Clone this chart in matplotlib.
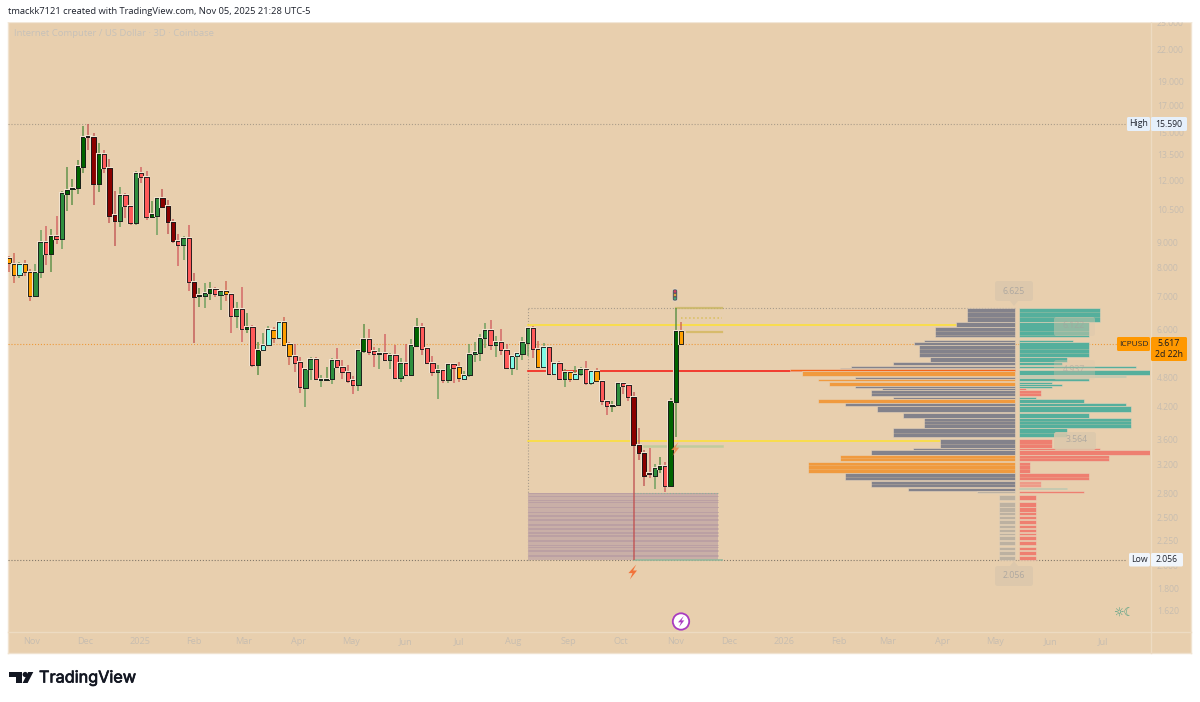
#!/usr/bin/env python
# coding=utf-8
# ICP/USD 3D chart with fixed range volume profile

import matplotlib
matplotlib.use("Agg")
import matplotlib.pyplot as plt
import matplotlib.dates as mdates
import matplotlib.patheffects as pe
import pandas as pd
from matplotlib.patches import Circle, FancyBboxPatch, Polygon, Rectangle
from matplotlib.ticker import NullLocator

plt.rcParams['font.family'] = ['Open Sans', 'DejaVu Sans']

highs = [8.44,8.56,8.21,8.28,7.95,8.13,9.52,9.70,9.56,10.16,
         11.40,12.78,12.06,13.20,15.45,15.59,14.94,14.25,13.80,13.26,
         11.40,11.61,11.30,10.70,12.54,12.78,12.54,10.90,11.10,11.50,
         10.95,10.02,9.35,9.26,9.74,7.80,7.27,7.44,7.48,7.30,
         7.20,7.51,7.07,6.82,7.30,6.48,6.12,5.66,5.90,6.10,
         6.07,6.24,6.36,5.66,5.60,5.27,4.99,5.27,5.27,4.85,
         5.04,5.25,5.50,5.20,5.08,4.83,5.45,6.15,6.01,5.53,
         5.50,5.87,5.37,5.58,5.25,5.60,5.74,6.33,6.18,5.50,
         5.30,5.08,4.97,5.13,5.11,5.15,4.95,5.60,5.66,5.87,
         6.18,6.27,5.82,6.01,5.60,5.30,5.40,5.79,6.04,6.10,
         5.68,5.63,5.53,5.13,5.17,4.99,4.92,5.06,5.04,5.17,
         4.97,5.02,4.72,4.30,4.30,4.70,4.70,4.66,4.49,3.80,
         3.43,3.46,3.21,3.32,3.24,4.36,6.625,6.21]
body_top = [8.36,8.13,8.13,8.13,7.84,7.84,9.01,9.01,9.26,9.26,
            11.30,11.45,11.56,12.84,14.66,14.73,14.66,13.56,13.56,12.72,
            10.20,11.20,11.20,10.65,12.42,12.42,12.18,10.25,11.05,11.05,
            10.65,9.88,9.05,9.17,9.17,7.48,7.04,7.10,7.24,7.24,
            7.17,7.17,7.07,6.60,6.60,6.07,6.07,5.45,5.58,6.01,
            5.98,6.21,6.21,5.60,5.30,5.15,4.99,5.22,5.22,4.76,
            4.76,5.20,5.20,5.04,4.92,4.74,5.45,5.74,5.74,5.42,
            5.37,5.37,5.32,5.32,5.13,5.13,5.58,6.07,6.07,5.50,
            5.13,4.97,4.97,5.11,5.11,5.04,4.85,5.35,5.40,5.76,
            5.98,5.98,5.66,5.66,5.45,5.30,5.37,5.66,6.04,6.04,
            5.48,5.53,5.53,5.13,5.13,4.92,4.92,4.88,4.99,4.99,
            4.95,4.95,4.72,4.30,4.22,4.68,4.68,4.63,4.38,3.51,
            3.37,3.07,3.15,3.18,3.18,4.30,5.95,5.95]
body_bot = [8.17,7.73,7.73,7.84,7.01,7.01,7.84,8.52,8.52,9.13,
            9.13,11.25,11.50,11.56,12.78,14.66,11.78,11.78,12.72,10.16,
            9.92,9.92,10.65,9.83,9.83,12.18,10.12,10.12,10.16,10.60,
            9.88,9.05,8.88,8.88,7.48,6.97,7.01,7.01,7.10,7.07,
            7.04,7.07,6.39,6.39,6.01,6.01,5.08,5.08,5.45,5.58,
            5.76,5.76,5.58,5.30,5.13,4.59,4.57,4.99,4.76,4.74,
            4.74,4.76,5.04,4.92,4.72,4.63,4.63,5.42,5.40,5.35,
            5.35,5.20,5.20,4.79,4.79,4.85,4.85,5.55,5.48,5.13,
            4.92,4.92,4.74,4.74,5.02,4.79,4.76,4.85,5.35,5.37,
            5.76,5.58,5.58,5.45,5.02,5.02,5.30,5.35,5.63,5.48,
            5.04,5.04,4.88,4.88,4.76,4.76,4.76,4.76,4.88,4.68,
            4.68,4.72,4.30,4.20,4.20,4.22,4.61,4.38,3.51,3.37,
            3.04,3.06,3.04,3.14,2.90,2.90,4.28,5.60]
lows = [7.84,7.44,7.62,7.69,6.85,7.01,7.62,8.10,7.84,8.93,
        8.72,10.40,10.70,11.25,12.42,13.80,10.70,11.35,12.42,9.83,
        8.84,9.65,10.07,9.74,9.74,11.83,9.97,10.12,9.30,10.60,
        9.35,8.97,8.06,8.28,7.17,5.63,6.66,6.63,6.88,6.97,
        6.57,6.85,5.90,6.04,5.66,5.90,5.04,4.85,5.45,5.58,
        5.63,5.74,5.58,5.08,4.92,4.47,4.19,4.74,4.74,4.59,
        4.74,4.66,5.02,4.76,4.68,4.45,4.51,5.37,5.32,5.04,
        4.99,5.20,4.99,4.79,4.70,4.85,4.85,5.55,5.32,5.13,
        4.83,4.34,4.68,4.68,4.68,4.70,4.74,4.81,5.15,5.17,
        5.50,5.45,5.27,5.32,5.02,4.85,4.97,5.20,5.30,5.25,
        5.04,5.02,4.88,4.88,4.76,4.59,4.70,4.76,4.83,4.63,
        4.63,4.72,4.22,4.02,4.09,4.22,4.45,4.30,2.056,3.27,
        2.90,3.00,2.85,3.08,2.81,2.90,3.64,5.60]
kinds = ("OOCOOggRGR" "gGGGGDDGRD" "DgRRgRRGgD" "DDRgRDGgGR" "gORgRGRGCC"
         "OCOORRggRg" "GgRRRRgGRR" "gRgRgRgGRR" "RgRgROCggg" "gRgRRCCggR"
         "OCRCRgOCgR" "CORRGgRRDD" "DRgGRGGO")

body_colors = {'G': '#006400', 'g': '#2f8f3f', 'R': '#ff5a5a', 'D': '#8b0000',
               'O': '#ff9f00', 'C': '#7ffbe6'}
wick_colors = {'G': '#4f8a3c', 'g': '#5f9a55', 'R': '#d0595c', 'D': '#c05050',
               'O': '#cf5f50', 'C': '#5f9a55'}

y_ticks = [25,22,19,17,15,13.5,12,10.5,9,8,7,6,4.8,4.2,3.6,3.2,2.8,2.5,2.25,2,1.8,1.62]
x_tick_dates = ['2024-11-01','2024-12-01','2025-01-01','2025-02-01','2025-03-01','2025-04-01',
                '2025-05-01','2025-06-01','2025-07-01','2025-08-01','2025-09-01','2025-10-01',
                '2025-11-01','2025-12-01','2026-01-01','2026-02-01','2026-03-01','2026-04-01',
                '2026-05-01','2026-06-01','2026-07-01']
x_tick_labels = ['Nov','Dec','2025','Feb','Mar','Apr','May','Jun','Jul','Aug','Sep','Oct',
                 'Nov','Dec','2026','Feb','Mar','Apr','May','Jun','Jul']

high_price = 15.59
low_price = 2.056
last_price = 5.617
range_high = 6.625
vah = 6.122
poc = 4.937
val = 3.564

# volume profile, left side (price row top, row bottom, volume, kind)
left_top = [6.625,6.21,6.07,5.71,5.66,5.58,5.27,5.15,5.06,5.02,4.99,4.95,4.80,4.76,4.70,4.61,4.57,4.53,
            4.38,4.34,4.25,4.20,4.07,3.98,3.80,3.61,3.46,3.43,3.35,3.24,3.07,2.97,2.87,2.83,
            2.78,2.69,2.62,2.56,2.52,2.47,2.42,2.37,2.33,2.29,2.24,2.18,2.14,2.09]
left_bot = [6.21,6.07,5.79,5.66,5.58,5.27,5.15,5.08,5.02,4.99,4.95,4.83,4.76,4.72,4.61,4.57,4.53,4.40,
            4.34,4.25,4.20,4.09,3.98,3.80,3.64,3.46,3.43,3.35,3.25,3.08,2.98,2.88,2.83,2.80,
            2.71,2.63,2.57,2.53,2.48,2.43,2.38,2.34,2.30,2.25,2.20,2.15,2.10,2.056]
left_vol = [48,59,80,91,101,96,85,122,164,175,225,213,160,197,186,160,133,144,
            122,197,170,138,112,91,122,75,102,144,175,207,170,144,107,38,
            16,16,16,16,16,16,16,16,16,16,16,16,16,16]
left_kind = list("gggggggggg") + ['p','o','g','o','o','g','g','g'] + ['g','o','g','g','g','g','g','g','g','g','o','o','g','g','g','t'] + ['t']*14

right_top = [6.625,6.21,5.71,5.66,5.27,5.15,5.06,5.00,4.97,4.83,4.78,4.70,4.65,4.61,4.57,4.53,4.38,4.34,4.25,4.20,
             4.07,3.98,3.80,3.61,3.46,3.43,3.35,3.24,3.07,2.97,2.87,2.83,
             2.78,2.69,2.62,2.56,2.52,2.47,2.42,2.37,2.33,2.29,2.24,2.18,2.14,2.09]
right_bot = [6.21,5.79,5.66,5.27,5.15,5.08,5.01,4.98,4.85,4.80,4.72,4.65,4.61,4.57,4.53,4.40,4.34,4.25,4.20,4.09,
             3.98,3.80,3.64,3.46,3.43,3.35,3.25,3.08,2.98,2.88,2.85,2.80,
             2.71,2.63,2.57,2.53,2.48,2.43,2.38,2.34,2.30,2.25,2.20,2.15,2.10,2.056]
right_vol = [81,70,54,70,48,43,117,90,131,107,70,33,43,33,7,22,17,65,107,112,
             70,112,48,33,81,131,90,11,70,22,48,65,
             17,17,17,17,17,17,17,17,17,17,17,17,17,17]
right_kind = ['b']*14 + ['r','r'] + ['b']*7 + ['r','r','r','r','r','r','l','b','r'] + ['r']*14

# faint row gaps inside the merged profile blocks
row_gaps = [6.51,6.36,5.95,5.85,5.48,5.37,4.47,3.92,3.87,3.70,3.52,3.30,3.19,3.13,3.02,2.92]

zone_levels = [2.80,2.76,2.71,2.69,2.63,2.62,2.57,2.56,2.53,2.52,2.48,2.47,2.43,2.42,2.38,2.37,
               2.34,2.33,2.30,2.29,2.25,2.24,2.20,2.18,2.15,2.14,2.10,2.09]

profile_colors = {'g': '#83828b', 't': '#bcb1a1', 'o': '#f09a3e', 'p': '#f5641a',
                  'b': '#55af9c', 'r': '#ee7f70', 'l': '#ee9a88'}

bg = '#e8cfae'
axis_text = '#c7bdb0'
W, H = 1200.0, 702.0

fig = plt.figure(figsize=(12, 7.02), dpi=100, facecolor='white')

def fig_rect(x0, y0, x1, y1):
    return [x0 / W, 1 - y1 / H, (x1 - x0) / W, (y1 - y0) / H]

ax_bg = fig.add_axes(fig_rect(7.7, 21.7, 1191.5, 653))
ax_bg.set_facecolor(bg)
ax_bg.set_xticks([])
ax_bg.set_yticks([])
for s in ax_bg.spines.values():
    s.set_color('#f0e2cf')
    s.set_linewidth(1.0)

ax = fig.add_axes(fig_rect(8, 22, 1150, 631), zorder=2)
ax.patch.set_alpha(0)
for s in ax.spines.values():
    s.set_visible(False)

dates = pd.date_range(end='2025-11-04', periods=len(highs), freq='3D')
xs = mdates.date2num(dates)
px_per_day = 1.7647
last_x = xs[-1]

ax.set_yscale('log')
ax.set_xlim(last_x - 381.5, last_x + 265.6)
ax.set_ylim(1.475, 25.06)
ax.yaxis.set_minor_locator(NullLocator())
ax.yaxis.tick_right()
ax.set_yticks(y_ticks, ['%.3f' % v for v in y_ticks])
ax.set_xticks(mdates.date2num(pd.to_datetime(x_tick_dates)), x_tick_labels)
ax.tick_params(axis='y', length=0, pad=5, labelsize=6.2, labelcolor=axis_text)
ax.tick_params(axis='x', length=0, pad=4.5, labelsize=6.6, labelcolor=axis_text)

# separators of the price and time scales
fig.add_artist(plt.Line2D([1150.5 / W] * 2, [1 - 653 / H, 1 - 22 / H], color='#eddbc2', lw=1))
fig.add_artist(plt.Line2D([8 / W, 1191 / W], [1 - 631.5 / H] * 2, color='#eddbc2', lw=1))

def d(s):
    return mdates.date2num(pd.Timestamp(s))

box_left = d('2025-08-09')
box_right = d('2026-05-12')
zone_right = d('2025-11-25')
tool_right = d('2025-11-27')
x_min = ax.get_xlim()[0]

# price reference lines
ax.plot([x_min, last_x + 252], [high_price] * 2, ls=':', lw=0.8, color='#ab9d89', zorder=1)
ax.plot([x_min, last_x + 252], [low_price] * 2, ls=':', lw=0.8, color='#84796a', zorder=1)
ax.plot([x_min, last_x + 247], [last_price] * 2, ls=':', lw=0.8, color='#ee9a3a', zorder=1)

# fixed range box
ax.plot([box_left, box_right], [range_high] * 2, ls=':', lw=0.8, color='#a89c8c', zorder=1)
ax.plot([box_left, box_left], [low_price, range_high], ls=':', lw=0.8, color='#a89c8c', zorder=1)

ax.barh(2.056, zone_right - box_left, height=2.80 - 2.056, left=box_left, align='edge',
        color='#c9afa7', zorder=1)
ax.hlines(zone_levels, box_left, zone_right, color='#bba0a3', lw=0.7, zorder=1.1)

ax.plot([d('2025-10-08'), zone_right], [2.80] * 2, ls=':', lw=0.8, color='#8fb39a', zorder=1.2)
ax.plot([d('2025-10-08'), tool_right], [low_price] * 2, lw=1.4, color='#93b89c', alpha=0.8, zorder=1.2)
ax.plot([d('2025-11-01'), tool_right], [range_high] * 2, lw=1.6, color='#c9b763', alpha=0.8, zorder=1.2)
ax.plot([d('2025-11-04'), tool_right], [6.33] * 2, ls=':', lw=1.1, color='#d9bf5d', zorder=1.2)
ax.plot([d('2025-11-07'), tool_right], [5.92] * 2, lw=1.6, color='#d6b964', alpha=0.9, zorder=1.2)
ax.plot([d('2025-10-14'), tool_right], [3.49] * 2, lw=1.8, color='#bccb9b', alpha=0.9, zorder=1.2)

ax.plot([box_left, box_right], [vah] * 2, color='#fde133', lw=1.1, zorder=1.5)
ax.plot([box_left, box_right], [val] * 2, color='#fde133', lw=1.1, zorder=1.5)
ax.plot([box_left, box_right], [poc] * 2, color='#f3231a', lw=1.2, zorder=1.5)

# candles
for x, hi, lo, k in zip(xs, highs, lows, kinds):
    ax.plot([x, x], [lo, hi], color=wick_colors[k], lw=1.2, alpha=0.8, zorder=3,
            solid_capstyle='butt')
heights = [t - b for t, b in zip(body_top, body_bot)]
bars = ax.bar(xs, heights, bottom=body_bot, width=2.5,
              color=[body_colors[k] for k in kinds], edgecolor='#1a1a1a', linewidth=0.6, zorder=4)
for b in bars:
    b.set_path_effects([pe.withStroke(linewidth=1.5, foreground='#f1e3cf'), pe.Normal()])

# volume profile
base_left = box_right
base_right = base_left + 4 / px_per_day
for top, bot, v, k in zip(left_top, left_bot, left_vol, left_kind):
    ax.barh(bot, -v / px_per_day, height=top - bot, left=base_left, align='edge',
            color=profile_colors[k], edgecolor='#e6d3ba', linewidth=0.4, zorder=2)
for top, bot, v, k in zip(right_top, right_bot, right_vol, right_kind):
    ax.barh(bot, v / px_per_day, height=top - bot, left=base_right, align='edge',
            color=profile_colors[k], edgecolor='#e6d3ba', linewidth=0.4, zorder=2)
ax.hlines(row_gaps, base_left - 230 / px_per_day, base_right + 135 / px_per_day,
          color=bg, alpha=0.3, lw=0.6, zorder=2.2)

# overlay in pixel coordinates for labels and icons
ov = fig.add_axes([0, 0, 1, 1], zorder=5)
ov.set_xlim(0, W)
ov.set_ylim(H, 0)
ov.axis('off')

ov.add_patch(Rectangle((0, 0), 1200, 21.2, color='white', zorder=0))
ov.text(8, 12, 'tmackk7121 created with TradingView.com, Nov 05, 2025 21:28 UTC-5',
        fontsize=6.75, color='#1e222d', va='center', ha='left')
ov.text(14, 33.5, 'Internet Computer / US Dollar · 3D · Coinbase', fontsize=6.8,
        color='#c6c1b9', va='center', ha='left')

def tag(x0, y0, x1, y1, color, alpha=1.0, r=1.5):
    ov.add_patch(FancyBboxPatch((x0 + r, y0 + r), x1 - x0 - 2 * r, y1 - y0 - 2 * r,
                                boxstyle='round,pad=%g,rounding_size=%g' % (r, r),
                                fc=color, ec='none', alpha=alpha))

# level labels of the profile
for x0, y0, x1, y1, cx, cy, txt, a in [(995, 281, 1033, 301, 1014, 291, '6.625', 0.9),
                                       (995, 566, 1033, 586, 1014, 576, '2.056', 0.9),
                                       (1054, 317, 1095, 336, 1074, 326, '6.122', 0.45),
                                       (1054, 360, 1095, 380, 1074, 369, '4.937', 0.35),
                                       (1054, 432, 1096, 450, 1077, 440, '3.564', 0.85)]:
    tag(x0, y0, x1, y1, '#dcc8ac', alpha=a, r=2.5)
    ov.text(cx, cy, txt, fontsize=6.3, color='#a5a29e', alpha=0.35 + a * 0.55, ha='center', va='center')
ov.add_patch(Polygon([(1010, 301), (1018, 301), (1014, 306)], fc='#dcc8ac', ec='none', alpha=0.9))
ov.add_patch(Polygon([(1010, 566), (1018, 566), (1014, 561)], fc='#dcc8ac', ec='none', alpha=0.9))

# right side price tags
tag(1127, 117, 1150, 131, '#e6f0fb')
tag(1151, 117, 1187, 131, '#e6f0fb')
ov.text(1138.5, 124, 'High', fontsize=6.3, color='#20242e', ha='center', va='center')
ov.text(1169, 124.3, '15.590', fontsize=6.2, color='#20242e', ha='center', va='center')
tag(1129, 553, 1150, 566.5, '#f0f5fb')
tag(1151, 553, 1183, 566.5, '#f0f5fb')
ov.text(1139.5, 560, 'Low', fontsize=6.3, color='#20242e', ha='center', va='center')
ov.text(1167, 559.8, '2.056', fontsize=6.2, color='#20242e', ha='center', va='center')
tag(1117, 337, 1150, 351, '#ff9800')
tag(1151, 337, 1187, 361, '#ff9800')
ov.text(1133.5, 344, 'ICPUSD', fontsize=6.0, color='#20242e', ha='center', va='center')
ov.text(1169, 344, '5.617', fontsize=6.3, color='#131722', ha='center', va='center')
ov.text(1169, 354.5, '2d 22h', fontsize=6.2, color='#131722', ha='center', va='center')

def bolt(cx, cy, s, color, alpha=1.0):
    pts = [(0.5, -1), (-0.55, 0.15), (0, 0.15), (-0.35, 1), (0.6, -0.2), (0.08, -0.2)]
    ov.add_patch(Polygon([(cx + px * s, cy + py * s) for px, py in pts], fc=color, ec='none', alpha=alpha))

bolt(632.5, 572, 7.5, '#f2733a')
bolt(675, 449, 7, '#f08a4e', alpha=0.85)

# traffic light marker above the last candles
ov.add_patch(FancyBboxPatch((673.3, 290), 3.4, 10, boxstyle='round,pad=1,rounding_size=2', fc='#5a5a5e', ec='#e9e1d2', lw=0.5))
for cy, c in [(291.5, '#d8356a'), (295, '#e8a63a'), (298.5, '#3fae7a')]:
    ov.add_patch(Circle((675, cy), 1.2, fc=c, ec='none'))

# purple earnings type marker
ov.add_patch(Circle((681, 621.5), 8.2, fc='white', ec='#a93cc0', lw=1.3))
bolt(681, 621.5, 5.5, '#a93cc0')

# sun and moon session icon
ov.text(1124, 613, '☼☾', fontsize=8.5, color='#4f9e82', ha='center', va='center', family=['DejaVu Sans'])

# logo
ov.add_patch(Polygon([(9, 672), (22, 672), (22, 683), (15.5, 683), (15.5, 677), (9, 677)], fc='#131722', ec='none'))
ov.add_patch(Circle((25.2, 674.5), 2.6, fc='#131722', ec='none'))
ov.add_patch(Polygon([(33.3, 672), (27.6, 683), (22.6, 683), (28.2, 672)], fc='#131722', ec='none'))
logo = ov.text(39, 678, 'TradingView', fontsize=11.7, color='#131722', family=['Inter', 'DejaVu Sans'],
               ha='left', va='center')
logo.set_path_effects([pe.withStroke(linewidth=0.5, foreground='#131722')])

fig.savefig('out.png', dpi=100, facecolor='white')
